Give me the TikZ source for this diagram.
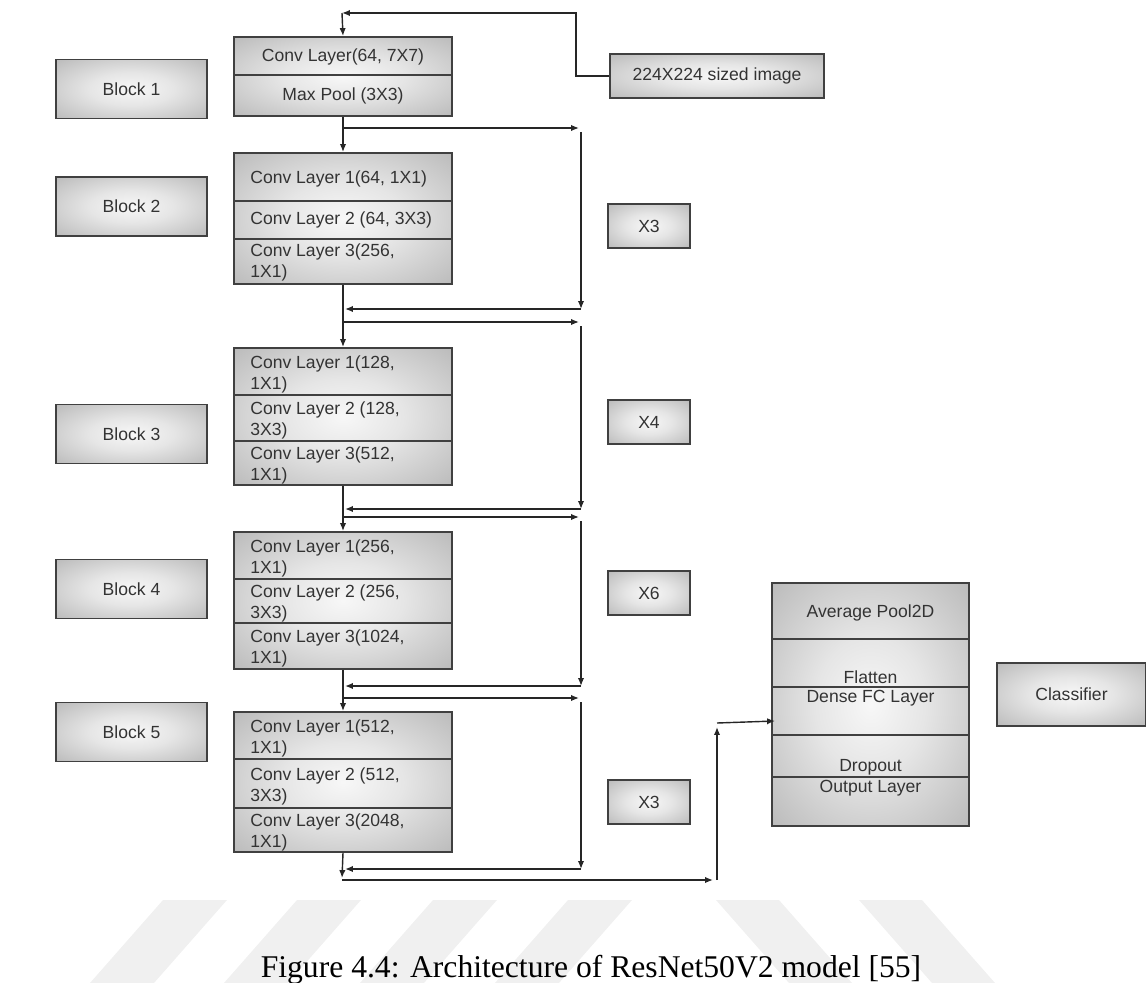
\documentclass[tikz,border=0pt]{standalone}
\usepackage{fontspec}
\usetikzlibrary{arrows.meta,positioning,calc}
\newfontfamily\labelfont{Liberation Sans}
\newfontfamily\capfont{Liberation Serif}
\pgfdeclareradialshading{boxshade}{\pgfpoint{0bp}{0bp}}{%
  color(0bp)=(black!3); color(14bp)=(black!10);
  color(50bp)=(black!38); color(72bp)=(black!50)}
\tikzset{
  >={Latex[length=4.5pt,width=3.6pt]},
  shadebox/.style={draw=black!75, line width=1.1pt, shading=boxshade,
    inner sep=0pt, font=\labelfont\fontsize{10}{12}\selectfont, text=black!80},
  block/.style={shadebox, minimum width=3.02cm, minimum height=1.18cm},
  xbox/.style={shadebox, minimum width=1.64cm, minimum height=0.88cm},
  stack/.style={shadebox, minimum width=4.36cm},
  layer/.style={font=\labelfont\fontsize{10}{12}\selectfont, text=black!80,
    align=left, anchor=west, inner sep=0pt},
  midlayer/.style={layer, anchor=center, align=center},
  divider/.style={draw=black!75, line width=1.1pt},
  link/.style={->, line width=0.8pt, black!85},
  wmark/.style={fill=black!6},
}

\begin{document}
\begin{tikzpicture}[x=0.02cm, y=-0.02cm]

\useasboundingbox (0,0) rectangle (1146,983);

% watermark
\foreach \x in {163,297,433,568}
  \fill[wmark] (\x,900) -- ++(64,0) -- ++(-73,83) -- ++(-64,0) -- cycle;
\foreach \x in {716,859}
  \fill[wmark] (\x,900) -- ++(63,0) -- ++(73,83) -- ++(-63,0) -- cycle;

% block labels
\node[block] (b1) at (131.5,89) {Block 1};
\node[block] (b2) at (131.5,206.5) {Block 2};
\node[block] (b3) at (131.5,434) {Block 3};
\node[block] (b4) at (131.5,589) {Block 4};
\node[block] (b5) at (131.5,732) {Block 5};

% input
\node[shadebox, minimum width=4.28cm, minimum height=0.88cm] (img) at (717,76) {224X224 sized image};

% stacks
\node[stack, minimum height=1.58cm] (s1) at (343,76.5) {};
\node[stack, minimum height=2.62cm] (s2) at (343,218.5) {};
\node[stack, minimum height=2.74cm] (s3) at (343,416.5) {};
\node[stack, minimum height=2.74cm] (s4) at (343,600.5) {};
\node[stack, minimum height=2.80cm] (s5) at (343,782) {};

\foreach \y in {75, 201, 239, 395, 441, 579, 623, 759, 808}
  \draw[divider] (234,\y) -- (452,\y);

\node[midlayer] (l11) at (343,57) {Conv Layer(64, 7X7)};
\node[midlayer] (l12) at (343,96) {Max Pool (3X3)};

\node[layer] (l21) at (250,179) {Conv Layer 1(64, 1X1)};
\node[layer] (l22) at (250,220) {Conv Layer 2 (64, 3X3)};
\node[layer] (l23) at (250,262) {Conv Layer 3(256,\\1X1)};

\node[layer] (l31) at (250,374) {Conv Layer 1(128,\\1X1)};
\node[layer] (l32) at (250,420) {Conv Layer 2 (128,\\3X3)};
\node[layer] (l33) at (250,465) {Conv Layer 3(512,\\1X1)};

\node[layer] (l41) at (250,558) {Conv Layer 1(256,\\1X1)};
\node[layer] (l42) at (250,603) {Conv Layer 2 (256,\\3X3)};
\node[layer] (l43) at (250,648) {Conv Layer 3(1024,\\1X1)};

\node[layer] (l51) at (250,738) {Conv Layer 1(512,\\1X1)};
\node[layer] (l52) at (250,786) {Conv Layer 2 (512,\\3X3)};
\node[layer] (l53) at (250,832) {Conv Layer 3(2048,\\1X1)};

% repeat counts
\node[xbox] (x2) at (649,226) {X3};
\node[xbox] (x3) at (649,422) {X4};
\node[xbox] (x4) at (649,593) {X6};
\node[xbox] (x5) at (649,802) {X3};

% head
\node[shadebox, minimum width=3.94cm, minimum height=4.86cm] (head) at (870.5,704.5) {};
\foreach \y in {639, 687, 735, 777}
  \draw[divider] (772,\y) -- (969,\y);
\node[midlayer] (h1) at (870.5,613) {Average Pool2D};
\node[midlayer] (h2) at (870.5,677) {Flatten};
\node[midlayer] (h3) at (870.5,698) {Dense FC Layer};
\node[midlayer] (h4) at (870.5,767) {Dropout};
\node[midlayer] (h5) at (870.5,788) {Output Layer};

\node[shadebox, minimum width=2.98cm, minimum height=1.26cm] (cls) at (1071.5,694.5) {Classifier};

% input path
\coordinate (tin) at (342,13);
\draw[link] (img.west) -- (576,76) |- (tin);
\draw[link] (tin) -- (s1.north);

% main line
\draw[link] (s1.south) -- (s2.north);
\draw[link] (s2.south) -- (s3.north);
\draw[link] (s3.south) -- (s4.north);
\draw[link] (s4.south) -- (s5.north);

% shortcuts
\foreach \n/\yo/\yb in {2/128/309, 3/322/509, 4/517/686, 5/698/869} {
  \coordinate (o\n) at (342,\yo);
  \coordinate (r\n) at (579,\yo);
  \coordinate (d\n) at (581,\yb);
  \coordinate (e\n) at (345,\yb);
  \draw[link] (o\n) -- (r\n);
  \draw[link] (581,\yo+4) -- (d\n);
  \draw[link] (d\n) -- (e\n);
}

% to head
\coordinate (f1) at (342,878);
\coordinate (f2) at (713,880);
\coordinate (f3) at (717,727);
\coordinate (hin) at (775,721);
\draw[link] (s5.south) -- (f1);
\draw[link] (342,880) -- (f2);
\draw[link] (717,880) -- (f3);
\draw[link] (717,723) -- (hin);

% caption
\node[font=\capfont\fontsize{18}{21}\selectfont, anchor=base, inner sep=0pt] (cap) at (591,977)
  {Figure 4.4: Architecture of ResNet50V2 model [55]};

\end{tikzpicture}
\end{document}
